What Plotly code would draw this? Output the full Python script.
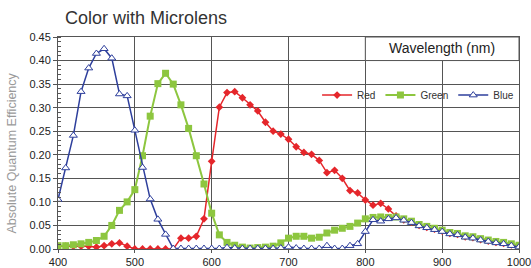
import plotly.graph_objects as go

wavelength = list(range(400, 1001, 10))

red = [0.006, 0.006, 0.006, 0.006, 0.006, 0.004, 0.007, 0.011, 0.013, 0.006,
       0.000, 0.000, 0.000, 0.000, 0.000, 0.000, 0.023, 0.023, 0.027, 0.064,
       0.186, 0.301, 0.332, 0.334, 0.321, 0.306, 0.293, 0.269, 0.250, 0.244,
       0.233, 0.217, 0.205, 0.201, 0.188, 0.162, 0.167, 0.150, 0.124, 0.119,
       0.104, 0.093, 0.097, 0.085, 0.070, 0.062, 0.057, 0.050, 0.046, 0.042,
       0.038, 0.033, 0.031, 0.026, 0.024, 0.020, 0.017, 0.014, 0.012, 0.009,
       0.006]

green = [0.007, 0.007, 0.009, 0.011, 0.014, 0.018, 0.027, 0.050, 0.082, 0.100,
         0.126, 0.198, 0.282, 0.351, 0.373, 0.350, 0.306, 0.256, 0.198, 0.138,
         0.076, 0.030, 0.014, 0.008, 0.004, 0.002, 0.003, 0.004, 0.006, 0.013,
         0.023, 0.027, 0.027, 0.023, 0.025, 0.034, 0.040, 0.044, 0.048, 0.055,
         0.064, 0.067, 0.068, 0.067, 0.068, 0.064, 0.059, 0.052, 0.048, 0.044,
         0.040, 0.035, 0.033, 0.028, 0.026, 0.022, 0.019, 0.016, 0.014, 0.011,
         0.008]

blue = [0.105, 0.172, 0.241, 0.334, 0.384, 0.415, 0.425, 0.405, 0.329, 0.325,
        0.252, 0.173, 0.106, 0.063, 0.031, 0.001, 0.001, 0.001, 0.001, 0.001,
        0.001, 0.001, 0.003, 0.002, 0.001, 0.001, 0.001, 0.001, 0.001, 0.002,
        0.004, 0.002, 0.001, 0.001, 0.001, 0.007, 0.001, 0.001, 0.007, 0.011,
        0.037, 0.062, 0.059, 0.064, 0.066, 0.061, 0.056, 0.049, 0.045, 0.041,
        0.037, 0.032, 0.030, 0.025, 0.023, 0.019, 0.016, 0.013, 0.011, 0.007,
        0.004]

x_ticks = [400, 500, 600, 700, 800, 900, 1000]
y_ticks = [0.00, 0.05, 0.10, 0.15, 0.20, 0.25, 0.30, 0.35, 0.40, 0.45]

RED = "#e5262b"
GREEN = "#8dc63f"
BLUE = "#2e3f9c"
GRID = "#555555"
FONT = "Liberation Sans, Arial, sans-serif"

fig = go.Figure()
fig.add_trace(go.Scatter(
    x=wavelength, y=red, name="Red", mode="lines+markers",
    line=dict(color=RED, width=1.5),
    marker=dict(symbol="diamond", size=6, color=RED)))
fig.add_trace(go.Scatter(
    x=wavelength, y=green, name="Green", mode="lines+markers",
    line=dict(color=GREEN, width=2),
    marker=dict(symbol="square", size=7, color=GREEN)))
fig.add_trace(go.Scatter(
    x=wavelength, y=blue, name="Blue", mode="lines+markers",
    line=dict(color=BLUE, width=1.5),
    marker=dict(symbol="triangle-up", size=7, color="white",
                line=dict(color=BLUE, width=1))))

fig.add_shape(type="rect", xref="x", yref="y", x0=800, x1=1000, y0=0.40, y1=0.45,
              fillcolor="white", line=dict(color=GRID, width=1), layer="between")

fig.add_annotation(text="Wavelength (nm)", x=900, y=0.427, xref="x", yref="y",
                   showarrow=False, font=dict(family=FONT, size=14, color="#222222"))
fig.add_annotation(text="Color with Microlens", x=0, y=1, xref="paper", yref="paper",
                   xshift=4.5, yshift=19, showarrow=False,
                   xanchor="left", yanchor="middle",
                   font=dict(family=FONT, size=18, color="#333333"))
fig.add_annotation(text="Absolute Quantum Efficiency", x=0, y=0.453,
                   xref="paper", yref="paper", xshift=-46.5, textangle=-90,
                   showarrow=False, xanchor="center", yanchor="middle",
                   font=dict(family=FONT, size=12.5, color="#9a9a9a"))

fig.update_layout(
    width=531, height=268,
    margin=dict(l=58, r=12, t=37, b=19, autoexpand=False),
    paper_bgcolor="white", plot_bgcolor="white",
    font=dict(family=FONT, size=11, color="#222222"),
    showlegend=True,
    legend=dict(orientation="h", x=0.562, y=0.726, xanchor="left", yanchor="middle",
                bgcolor="rgba(0,0,0,0)", font=dict(size=10, color="#333333"),
                itemwidth=30, tracegroupgap=0),
    xaxis=dict(range=[400, 1000], tickvals=x_ticks, ticktext=[str(v) for v in x_ticks],
               automargin=False, ticklabeloverflow="allow",
               showgrid=True, gridcolor=GRID, gridwidth=1,
               showline=True, linecolor=GRID, mirror=True, zeroline=False,
               ticks="outside", ticklen=3, tickcolor=GRID,
               tickfont=dict(size=11, color="#222222")),
    yaxis=dict(range=[0, 0.45], tickvals=y_ticks, ticktext=[f"{v:.2f}" for v in y_ticks],
               automargin=False,
               showgrid=True, gridcolor=GRID, gridwidth=1,
               showline=True, linecolor=GRID, mirror=True, zeroline=False,
               ticks="outside", ticklen=4, tickcolor=GRID,
               minor=dict(dtick=0.01, tick0=0, ticks="inside", ticklen=3, tickcolor=GRID,
                          showgrid=False),
               tickfont=dict(size=11, color="#222222")),
)

fig.write_html("out.html", config={"displayModeBar": False},
               post_script="document.body.style.margin='0';document.body.style.overflow='hidden';")
